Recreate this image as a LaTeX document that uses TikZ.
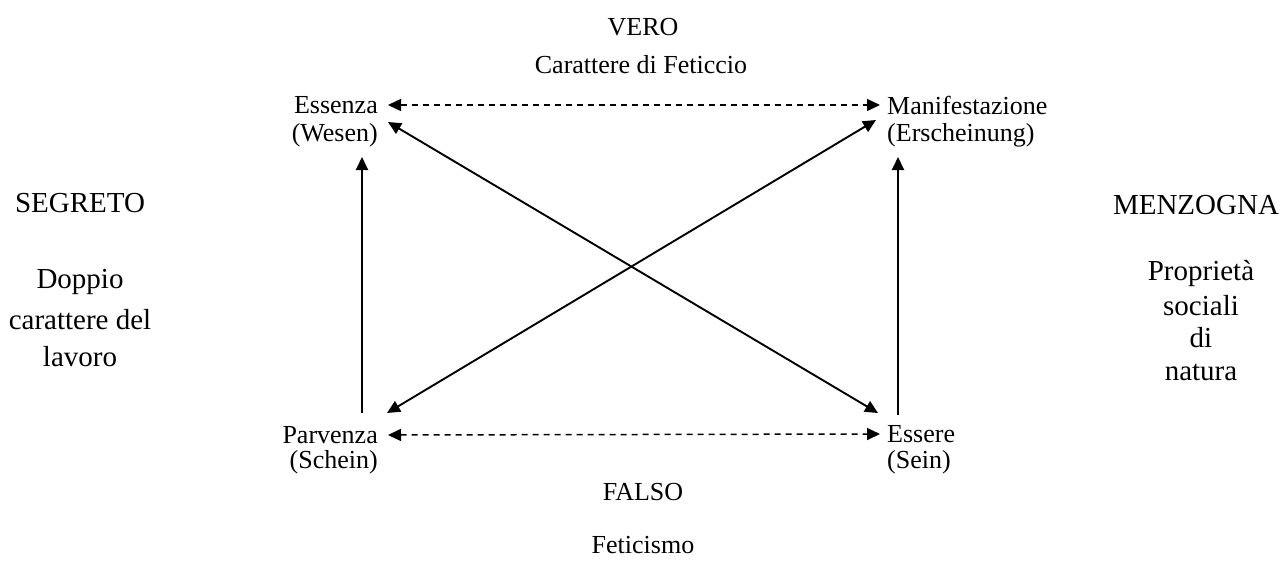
\documentclass[tikz,border=0pt]{standalone}
\usepackage{fontspec}
\setmainfont{Liberation Serif}
\usetikzlibrary{arrows.meta}
\tikzset{
  lbl/.style={inner sep=0pt, font=\fontsize{26}{30}\selectfont},
  side/.style={inner sep=0pt, font=\fontsize{29}{33}\selectfont},
  tip/.style={-{Triangle[length=13pt,width=12pt]}},
  both/.style={{Triangle[length=13pt,width=12pt]}-{Triangle[length=13pt,width=12pt]}},
  solidline/.style={line width=1.9pt},
  dashline/.style={line width=1.5pt, dash pattern=on 6pt off 5pt},
}
\begin{document}
\begin{tikzpicture}[x=1pt,y=-1pt]
\useasboundingbox (0,0) rectangle (1282,560);
% top / bottom labels
\node[lbl] (vero) at (643,27) {VERO};
\node[lbl] (car) at (641,65) {Carattere di Feticcio};
\node[lbl] (falso) at (643,492) {FALSO};
\node[lbl] (fet) at (643,545) {Feticismo};
% side labels
\node[side] (seg) at (80,203) {SEGRETO};
\node[side] (dop) at (80,282) {Doppio};
\node[side] (cdl) at (80,320) {carattere del};
\node[side] (lav) at (80,357) {lavoro};
\node[side] (men) at (1196,205) {MENZOGNA};
\node[side] (pro) at (1201,273) {Propriet\`a};
\node[side] (soc) at (1201,306) {sociali};
\node[side] (di) at (1201,338) {di};
\node[side] (nat) at (1201,372) {natura};
% corner nodes
\node[lbl, anchor=east] (ess) at (378,105) {Essenza};
\node[lbl, anchor=east] (wes) at (378,135) {(Wesen)};
\node[lbl, anchor=west] (man) at (887,105) {Manifestazione};
\node[lbl, anchor=west] (ers) at (887,135) {(Erscheinung)};
\node[lbl, anchor=east] (par) at (378,435) {Parvenza};
\node[lbl, anchor=east] (sch) at (378,462) {(Schein)};
\node[lbl, anchor=west] (esr) at (887,434) {Essere};
\node[lbl, anchor=west] (sein) at (887,462) {(Sein)};
% arrow end points
\coordinate (essD) at (388,122);
\coordinate (manD) at (876,120);
\coordinate (parD) at (387,413);
\coordinate (esrD) at (878,413);
\coordinate (parV) at (362,413);
\coordinate (wesV) at (362,157);
\coordinate (esrV) at (898,415);
\coordinate (ersV) at (898,157);
% connectors
\draw[dashline, both] ([xshift=10pt]ess.east) -- ([xshift=-7pt]man.west);
\draw[dashline, both] ([xshift=10pt]par.east) -- ([xshift=-7pt]esr.west);
\draw[solidline, both] (essD) -- (esrD);
\draw[solidline, both] (manD) -- (parD);
\draw[solidline, tip] (parV) -- (wesV);
\draw[solidline, tip] (esrV) -- (ersV);
\end{tikzpicture}
\end{document}
